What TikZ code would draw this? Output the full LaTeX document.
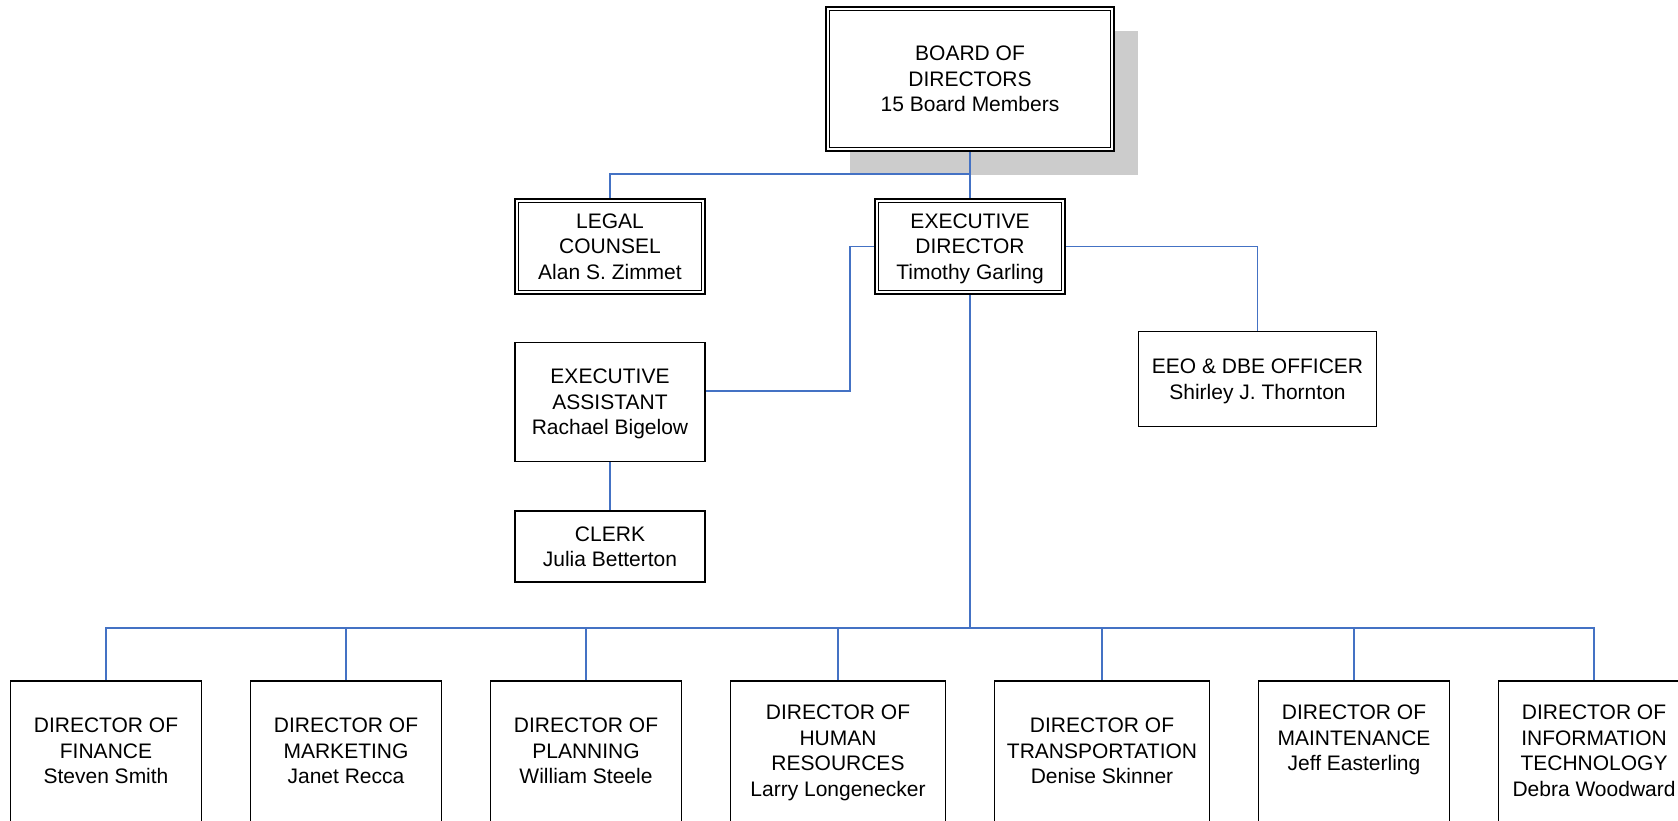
\documentclass[tikz,border=0pt]{standalone}
\usepackage{fontspec}
\setmainfont{Liberation Sans}
\usetikzlibrary{shadows}
\definecolor{connblue}{RGB}{68,114,196}
\definecolor{shadowgray}{RGB}{204,204,204}
\begin{document}
\begin{tikzpicture}[x=1pt,y=-1pt,
  txt/.style={font=\fontsize{21pt}{25.5pt}\selectfont, align=center, text depth=0pt},
  sbox/.style={txt, draw=black, line width=1.7pt, fill=white, inner sep=0pt},
  dbox/.style={sbox, line width=2.7pt},
  botbox/.style={sbox, anchor=north, minimum height=146pt, text depth=6pt},
  conn/.style={draw=connblue, line width=1.5pt},
  ]
\useasboundingbox (0,0) rectangle (1678,821);

% upper boxes
\node[dbox, minimum width=288pt, minimum height=144pt,
      drop shadow={shadow xshift=24pt, shadow yshift=-24pt, fill=shadowgray, opacity=1}]
  (board) at (970,79) {BOARD OF\\DIRECTORS\\15 Board Members};
\node[dbox, minimum width=190pt, minimum height=95pt] (legal) at (610,246.5) {LEGAL\\COUNSEL\\Alan S. Zimmet};
\node[dbox, minimum width=190pt, minimum height=95pt] (exec) at (970,246.5) {EXECUTIVE\\DIRECTOR\\Timothy Garling};
\foreach \n in {board,legal,exec}
  \draw[line width=1.4pt] ([xshift=5pt,yshift=-5pt]\n.north west) rectangle ([xshift=-5pt,yshift=5pt]\n.south east);

\node[sbox, minimum width=190pt, minimum height=119pt] (ea) at (610,402) {EXECUTIVE\\ASSISTANT\\Rachael Bigelow};
\node[sbox, minimum width=190pt, minimum height=71pt] (clerk) at (610,546.5) {CLERK\\Julia Betterton};
\node[sbox, minimum width=238pt, minimum height=95pt] (eeo) at (1257.5,379) {EEO \& DBE OFFICER\\Shirley J. Thornton};

% bottom row
\node[botbox, minimum width=191pt] (fin) at (106,680) {DIRECTOR OF\\FINANCE\\Steven Smith};
\node[botbox, minimum width=191pt] (mkt) at (346,680) {DIRECTOR OF\\MARKETING\\Janet Recca};
\node[botbox, minimum width=191pt] (pln) at (586,680) {DIRECTOR OF\\PLANNING\\William Steele};
\node[botbox, minimum width=215pt] (hr)  at (838,680) {DIRECTOR OF\\HUMAN\\RESOURCES\\Larry Longenecker};
\node[botbox, minimum width=215pt] (trn) at (1102,680) {DIRECTOR OF\\TRANSPORTATION\\Denise Skinner};
\node[botbox, minimum width=191pt] (mnt) at (1354,680) {DIRECTOR OF\\MAINTENANCE\\Jeff Easterling\\\mbox{}};
\node[botbox, minimum width=191pt] (it)  at (1594,680) {DIRECTOR OF\\INFORMATION\\TECHNOLOGY\\Debra Woodward};

% connectors
\coordinate (j1) at (970,174);
\coordinate (ea1) at (850,391);
\coordinate (bus) at (970,628);
\draw[conn] (board.south) -- (exec.north);
\draw[conn] (j1) -| (legal.north);
\draw[conn] (exec.west) -| (ea1) -- (ea1 -| ea.east);
\draw[conn] (exec.east) -| (eeo.north);
\draw[conn] (ea.south) -- (clerk.north);
\draw[conn] (exec.south) -- (bus);
\foreach \n in {fin,mkt,pln,hr,trn,mnt,it}
  \draw[conn] (bus) -| (\n.north);
\end{tikzpicture}
\end{document}
